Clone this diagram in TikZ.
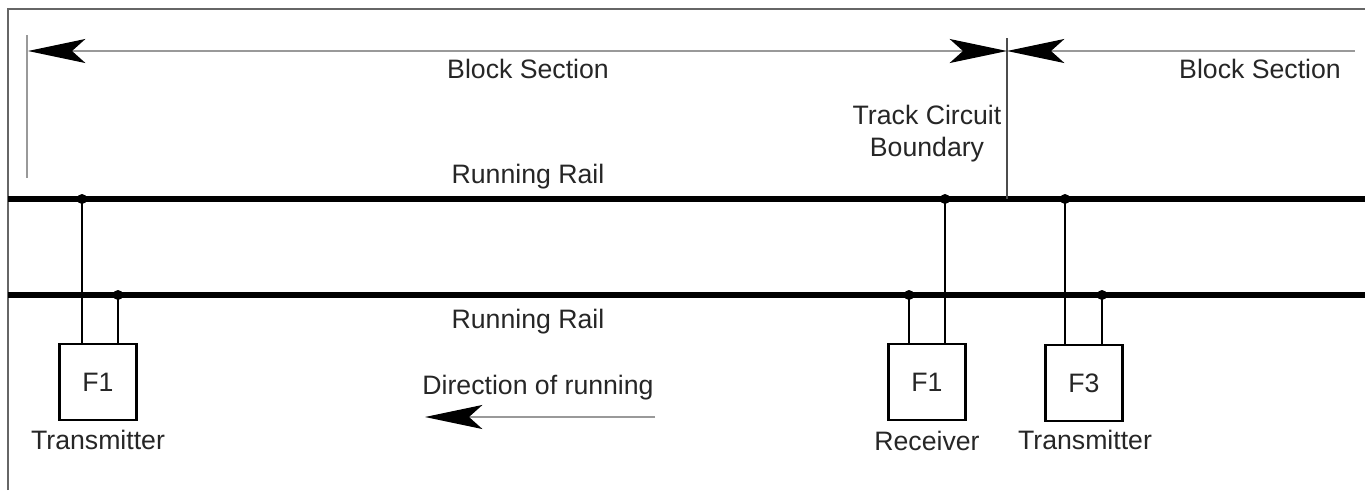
\documentclass[tikz,border=0pt]{standalone}
\usepackage{fontspec}
\setmainfont{Liberation Sans}
\usetikzlibrary{arrows.meta,positioning}

\begin{document}
\begin{tikzpicture}[x=0.75pt,y=-0.75pt,
rail/.style={line width=5.2pt},
wire/.style={line width=1.8pt},
unit/.style={rectangle, draw, line width=1.8pt, minimum width=58pt, minimum height=57pt, inner sep=0pt, font=\fontsize{20}{24}\selectfont, text=black!85},
tap/.style={circle, fill, inner sep=0pt, minimum size=7.5pt},
dim/.style={draw=black!40, line width=1.6pt},
bigtip/.tip={Stealth[length=43pt, width=18pt, inset=10pt, color=black]},
info/.style={draw=none, fill=none, inner sep=0pt, font=\fontsize{20}{24}\selectfont, text=black!85}]

%% local variables
\def \toprail {199}
\def \botrail {295}
\def \dimy {51}

\useasboundingbox (0,0) rectangle (1365,490);

%% frame
\draw[black!60, line width=1.2pt] (8,490) -- (8,9) -- (1365,9);

%% running rails
\draw[rail] (8,\toprail) -- (1365,\toprail);
\draw[rail] (8,\botrail) -- (1365,\botrail);

%% block section dimensions
\coordinate (bs-left) at (28,\dimy);
\coordinate (bs-mid) at (1007,\dimy);
\coordinate (bs-right) at (1355,\dimy);
\draw[dim] (27,35) -- (27,178);
\draw[black!70, line width=1.1pt] (1007,38) -- (1007,\toprail);
\draw[dim, {bigtip}-{bigtip}] (bs-left) -- (bs-mid);
\draw[dim, {bigtip}-] (bs-mid) -- (bs-right);

%% place labels
\node[info] (bs-1) at (528,69) {Block Section};
\node[info] (bs-2) at (1260,69) {Block Section};
\node[info, align=center] (tcb) at (927,134) {Track Circuit\\Boundary};
\node[info] (rr-top) at (528,177) {Running Rail};
\node[info] (rr-bot) at (528,322) {Running Rail};
\node[info] (dir) at (538,388) {Direction of running};

%% direction of running
\coordinate (dir-start) at (655,417);
\coordinate (dir-end) at (425,417);
\draw[dim, -{bigtip}] (dir-start) -- (dir-end);

%% place the units
\node[unit] (tx1) at (98,382) {F1};
\node[unit] (rx1) at (927,382) {F1};
\node[unit] (tx3) at (1084,383) {F3};

\node[info] (tx1-name) at (98,440) {Transmitter};
\node[info] (rx1-name) at (927,441) {Receiver};
\node[info] (tx3-name) at (1085,440) {Transmitter};

%% place rail connections
\foreach \n/\x/\y in {tx1-a/82/\toprail, tx1-b/118/\botrail,
                       rx1-a/909/\botrail, rx1-b/945/\toprail,
                       tx3-a/1065/\toprail, tx3-b/1102/\botrail}
      \node[tap] (\n) at (\x,\y) {};

%% place all wires
\foreach \n/\u in {tx1-a/tx1, tx1-b/tx1, rx1-a/rx1, rx1-b/rx1, tx3-a/tx3, tx3-b/tx3}
      \draw[wire] (\n.center) -- (\n.center |- \u.north);

\end{tikzpicture}
\end{document}
